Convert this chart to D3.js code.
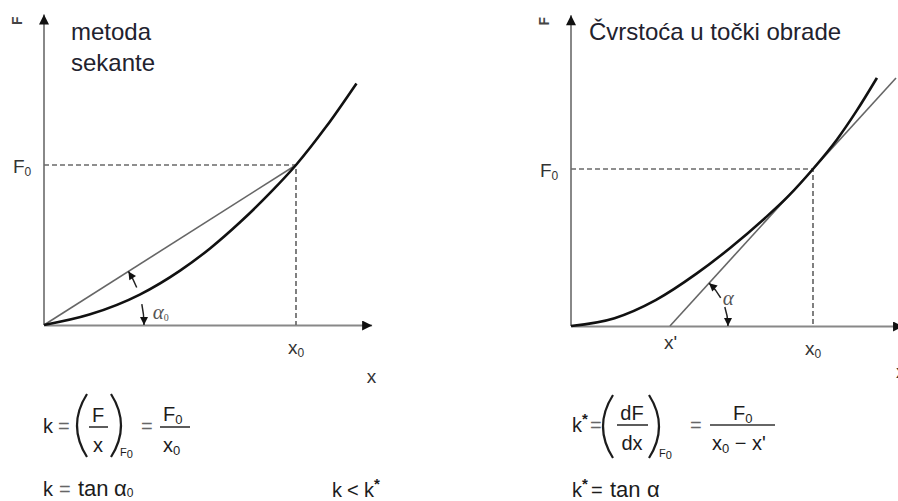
<!DOCTYPE html>
<html>
<head>
<meta charset="utf-8">
<script src="https://cdn.jsdelivr.net/npm/d3@7"></script>
<style>
  body { margin: 0; background: #fff; }
  svg { display: block; font-family: "Liberation Sans", Arial, sans-serif; }
</style>
</head>
<body>
<svg id="chart" width="898" height="501"></svg>
<script>
////////////////////////////////////////////////////////////////////////////////
// Data (x and F in units where x0 = 100, F0 = 100)

// left panel: secant method
var leftCurveX = [0, 18, 38, 54, 66, 78, 90, 100, 112, 124];
var leftCurveF = [0, 6.5, 19, 34, 48, 64.5, 83, 100, 124, 151];
var leftSecantX = [0, 100];
var leftSecantF = [0, 100];
var leftX0 = 100, leftF0 = 100;

// right panel: tangent at working point
var rightCurveX = [0, 18, 35, 52, 66, 80, 90, 100, 110, 118, 126.4];
var rightCurveF = [0, 5, 16.5, 33.5, 50, 68.5, 83, 100, 119, 137, 158];
var rightTangentX = [40.9, 134.3];
var rightTangentF = [0, 158];
var rightX0 = 100, rightF0 = 100, rightXp = 40.9;

// labels
var leftTitle = ['metoda', 'sekante'];
var rightTitle = 'Čvrstoća u točki obrade';

////////////////////////////////////////////////////////////////////////////////
var svg = d3.select('#chart');
var defs = svg.append('defs');

function marker(id, len, wid, color) {
	defs.append('marker')
		.attr('id', id)
		.attr('viewBox', '0 0 10 10')
		.attr('refX', 10).attr('refY', 5)
		.attr('markerUnits', 'userSpaceOnUse')
		.attr('markerWidth', len).attr('markerHeight', wid)
		.attr('orient', 'auto')
		.append('path')
		.attr('d', 'M0,0 L10,5 L0,10 z')
		.attr('fill', color);
}
marker('axisArrow', 13, 10, '#111');
marker('angArrow', 10, 8, '#111');

var lineGen = function(xs, ys) {
	return d3.line()
		.x(function(d) { return xs(d[0]); })
		.y(function(d) { return ys(d[1]); })
		.curve(d3.curveMonotoneX);
};

function zip(a, b) { return a.map(function(v, i) { return [v, b[i]]; }); }

// one panel
function panel(p) {
	var g = svg.append('g');
	var xs = p.x, ys = p.y;

	// axes (domain lines only) with arrow heads
	var xAxis = g.append('g')
		.attr('transform', 'translate(0,' + ys(0) + ')')
		.call(d3.axisBottom(xs).tickValues([]).tickSizeOuter(0));
	xAxis.select('.domain').attr('stroke', '#888').attr('stroke-width', 2)
		.attr('marker-end', 'url(#axisArrow)');
	var yAxis = g.append('g')
		.attr('transform', 'translate(' + xs(0) + ',0)')
		.call(d3.axisLeft(ys).tickValues([]).tickSizeOuter(0));
	yAxis.select('.domain').attr('stroke', '#888').attr('stroke-width', 2)
		.attr('d', 'M0,' + ys(0) + 'V' + ys.range()[1])
		.attr('marker-end', 'url(#axisArrow)');

	// dashed guides to working point
	g.append('path')
		.attr('d', 'M' + xs(0) + ',' + ys(p.F0) + 'H' + xs(p.x0) + 'V' + ys(0))
		.attr('fill', 'none').attr('stroke', '#6a6a6a')
		.attr('stroke-width', 1.7).attr('stroke-dasharray', '5,3');

	// straight line (secant / tangent)
	g.append('path')
		.datum(zip(p.lineX, p.lineF))
		.attr('d', d3.line().x(function(d) { return xs(d[0]); }).y(function(d) { return ys(d[1]); }))
		.attr('fill', 'none').attr('stroke', '#666').attr('stroke-width', 1.6);

	// curve
	g.append('path')
		.datum(zip(p.curveX, p.curveF))
		.attr('d', lineGen(xs, ys))
		.attr('fill', 'none').attr('stroke', '#111').attr('stroke-width', 2.6);

	// angle arrows, arc around the line foot
	var cx = xs(p.lineX[0]), cy = ys(p.lineF[0]);
	var th = Math.atan2(cy - ys(p.lineF[1]), xs(p.lineX[1]) - cx);
	var r = p.arcR;
	function pt(a) { return (cx + r * Math.cos(a)) + ',' + (cy - r * Math.sin(a)); }
	var a1 = p.gap[0] * Math.PI / 180, a2 = p.gap[1] * Math.PI / 180;
	g.append('path')
		.attr('d', 'M' + pt(a1) + 'A' + r + ',' + r + ' 0 0 1 ' + pt(0))
		.attr('fill', 'none').attr('stroke', '#222').attr('stroke-width', 1.5)
		.attr('marker-end', 'url(#angArrow)');
	g.append('path')
		.attr('d', 'M' + pt(a2) + 'A' + r + ',' + r + ' 0 0 0 ' + pt(th))
		.attr('fill', 'none').attr('stroke', '#222').attr('stroke-width', 1.5)
		.attr('marker-end', 'url(#angArrow)');
	var alpha = g.append('text')
		.attr('x', cx + r * Math.cos(a1) + p.alphaDx)
		.attr('y', cy - r * Math.sin(a1) + p.alphaDy)
		.attr('font-family', '"Liberation Serif", "DejaVu Serif", serif')
		.attr('font-style', 'italic').attr('font-size', 21).attr('fill', '#555')
		.text('α');
	if (p.alphaSub) {
		alpha.append('tspan').attr('font-size', 10).attr('dy', 2)
			.attr('font-style', 'normal').text(p.alphaSub);
	}

	// rotated F axis label
	g.append('text')
		.attr('transform', 'translate(' + (xs(0) - 27) + ',' + (ys.range()[1] + 6) + ') rotate(-90)')
		.attr('font-size', 14).attr('font-weight', 'bold').attr('fill', '#444')
		.attr('text-anchor', 'middle').attr('dy', '0.35em')
		.text('F');

	// F0 tick label
	var f0 = g.append('text')
		.attr('x', xs(0) - 31).attr('y', ys(p.F0) + 8)
		.attr('font-size', 19).attr('fill', '#333').text('F');
	f0.append('tspan').attr('font-size', 12).attr('dy', 3).text('0');

	// x0 tick label
	var x0 = g.append('text')
		.attr('x', xs(p.x0) - 8).attr('y', ys(0) + 29)
		.attr('font-size', 19).attr('fill', '#333').text('x');
	x0.append('tspan').attr('font-size', 12).attr('dy', 3).text('0');

	return g;
}

////////////////////////////////////////////////////////////////////////////////
// left panel
var xL = d3.scaleLinear().domain([0, 130]).range([44, 44 + 130 * 2.52]);
var fL = d3.scaleLinear().domain([0, 194]).range([325, 325 - 194 * 1.6]);
var gL = panel({ x: xL, y: fL, x0: leftX0, F0: leftF0,
	curveX: leftCurveX, curveF: leftCurveF,
	lineX: leftSecantX, lineF: leftSecantF,
	arcR: 100, gap: [12, 22], alphaDx: 11, alphaDy: 15, alphaSub: '0' });

gL.append('text').attr('x', xL(130)).attr('y', fL(0) + 58)
	.attr('font-size', 19).attr('fill', '#333').attr('text-anchor', 'middle').text('x');
gL.selectAll('.ttl').data(leftTitle).enter().append('text')
	.attr('x', 71).attr('y', function(d, i) { return 40 + i * 31; })
	.attr('font-size', 24).attr('fill', '#22222e').text(function(d) { return d; });

// right panel
var xR = d3.scaleLinear().domain([0, 137]).range([571, 571 + 137 * 2.42]);
var fR = d3.scaleLinear().domain([0, 198]).range([326, 326 - 198 * 1.57]);
var gR = panel({ x: xR, y: fR, x0: rightX0, F0: rightF0,
	curveX: rightCurveX, curveF: rightCurveF,
	lineX: rightTangentX, lineF: rightTangentF,
	arcR: 58, gap: [19, 29], alphaDx: -2, alphaDy: -2, alphaSub: null });

gR.append('text').attr('x', xR(rightXp) - 6).attr('y', fR(0) + 23)
	.attr('font-size', 19).attr('fill', '#333').text("x'");
gR.append('text').attr('x', 896).attr('y', fR(0) + 52)
	.attr('font-size', 19).attr('fill', '#333').text('x');
gR.append('text').attr('x', 589).attr('y', 40)
	.attr('font-size', 24).attr('fill', '#22222e').text(rightTitle);

////////////////////////////////////////////////////////////////////////////////
// formulas
var fm = svg.append('g').attr('fill', '#1c1c1c').attr('font-size', 20);

function txt(x, y, s, size, anchor, fill) {
	return fm.append('text').attr('x', x).attr('y', y)
		.attr('font-size', size || 20).attr('text-anchor', anchor || 'start')
		.attr('fill', fill || '#1c1c1c').text(s);
}
function sub(t, s, size, dy) {
	t.append('tspan').attr('font-size', size || 13).attr('dy', dy || 3).text(s);
	return t;
}
function paren(x1, x2, y1, y2) {
	fm.append('path')
		.attr('d', 'M' + x1 + ',' + y1 + 'Q' + (2 * x2 - x1) + ',' + ((y1 + y2) / 2) + ' ' + x1 + ',' + y2)
		.attr('fill', 'none').attr('stroke', '#1c1c1c').attr('stroke-width', 2.2);
}
function bar(x1, x2, y) {
	fm.append('line').attr('x1', x1).attr('x2', x2).attr('y1', y).attr('y2', y)
		.attr('stroke', '#333').attr('stroke-width', 1.6);
}

// k = (F/x)_F0 = F0/x0
txt(43, 433, 'k');
txt(58, 433, '=', 20, 'start', '#666');
paren(87, 77, 394, 457);
txt(98, 422, 'F', 20, 'middle');
bar(89, 108, 427);
txt(98, 452, 'x', 20, 'middle');
paren(111, 121, 394, 457);
sub(txt(120, 456, 'F', 11), '0', 11, 2);
txt(141, 433, '=', 20, 'start', '#666');
sub(txt(163, 421, 'F'), '0', 13, 3);
bar(160, 190, 427);
sub(txt(163, 452, 'x'), '0', 13, 3);

// k = tan a0
txt(43, 496, 'k');
txt(59, 496, '=', 20, 'start', '#666');
txt(78, 496, 'tan', 22);
sub(txt(114, 496, 'α', 22), '0', 12, 1);

// k < k*
txt(332, 497, 'k');
txt(347, 497, '<', 20);
txt(364, 497, 'k');
txt(374, 489, '*', 15).attr('font-weight', 'bold');

// k* = (dF/dx)_F0 = F0/(x0 - x')
txt(572, 432, 'k');
txt(582, 424, '*', 15).attr('font-weight', 'bold');
txt(590, 432, '=', 20, 'start', '#666');
paren(613, 603, 395, 458);
txt(632, 420, 'dF', 20, 'middle');
bar(617, 648, 425);
txt(632, 450, 'dx', 20, 'middle');
paren(649, 659, 395, 458);
sub(txt(659, 457, 'F', 11), '0', 11, 2);
txt(690, 432, '=', 20, 'start', '#666');
sub(txt(733, 420, 'F'), '0', 13, 3);
bar(710, 775, 425);
var den = txt(712, 450, 'x');
den.append('tspan').attr('font-size', 13).attr('dy', 3).text('0');
den.append('tspan').attr('dy', -3).text(" − x'");

// k* = tan a
txt(572, 497, 'k');
txt(582, 489, '*', 15).attr('font-weight', 'bold');
txt(591, 497, '=');
txt(610, 497, 'tan', 22);
txt(647, 497, 'α', 22);
</script>
</body>
</html>
